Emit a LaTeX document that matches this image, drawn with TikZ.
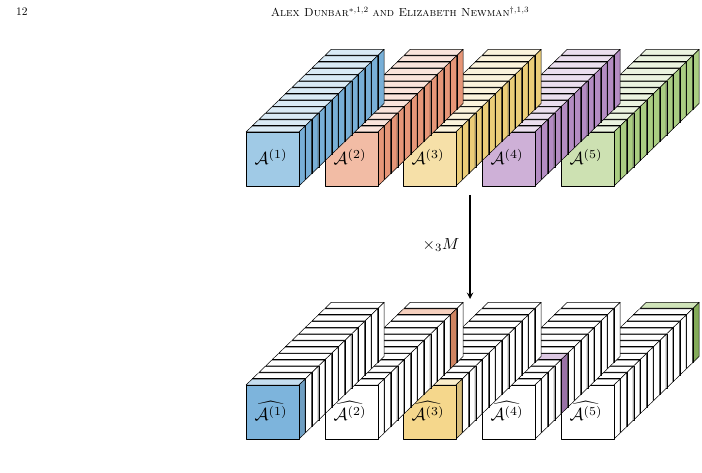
\documentclass[tikz,border=0pt]{standalone}
\usepackage{amsmath}
\begin{document}
\begin{tikzpicture}[x=1pt,y=-1pt,line join=round,lab/.style={scale=1.75,inner sep=0pt}]
\useasboundingbox (0,0) rectangle (702,473);
\definecolor{cA}{RGB}{160,202,230}\definecolor{cB}{RGB}{242,188,165}
\definecolor{cC}{RGB}{246,224,168}\definecolor{cD}{RGB}{206,176,215}
\definecolor{cE}{RGB}{205,225,178}
\definecolor{sA}{RGB}{120,175,215}\definecolor{sB}{RGB}{230,150,120}
\definecolor{sC}{RGB}{235,205,120}\definecolor{sD}{RGB}{180,140,195}
\definecolor{sE}{RGB}{170,205,130}
\definecolor{dA}{RGB}{125,180,220}\definecolor{dC}{RGB}{245,215,140}
\definecolor{dB}{RGB}{235,150,110}\definecolor{dD}{RGB}{175,130,190}
\definecolor{dE}{RGB}{150,195,100}
\newcommand\myslice[5]{%
 \filldraw[fill=#4,line width=0.5pt] (#1,#2) -- ++(6,-5.8) -- ++(53,0) -- ++(-6,5.8) -- cycle;
 \filldraw[fill=#5,line width=0.5pt] (#1+53,#2) -- ++(6,-5.8) -- ++(0,54) -- ++(-6,5.8) -- cycle;
 \filldraw[fill=#3,line width=0.5pt] (#1,#2) rectangle ++(53,54);}
\newcommand\topblock[4]{%
 \foreach \k in {12,...,0}{\myslice{#1+6.6*\k}{#2-6.4*\k}{#3}{#3!40}{#4}}}
\newcommand\botblock[4]{%
 \foreach \k in {12,...,0}{%
  \ifnum\k=#3\relax \myslice{#1+6.6*\k}{#2-6.4*\k}{#4}{#4!45}{#4!88!black}%
  \else \myslice{#1+6.6*\k}{#2-6.4*\k}{white}{white}{white}\fi}}
\node[anchor=west,scale=1.15] (pg) at (12,12) {12};
\node[scale=1.16] (hd) at (400,12) {\textsc{Alex Dunbar}$^{*,1,2}$ \textsc{and Elizabeth Newman}$^{\dagger,1,3}$};
\topblock{561}{132}{cE}{sE}
\topblock{482}{132}{cD}{sD}
\topblock{403}{132}{cC}{sC}
\topblock{325}{132}{cB}{sB}
\topblock{246}{132}{cA}{sA}
\foreach \i/\x in {1/246,2/325,3/403,4/482,5/561}
  \node[lab] (t\i) at (\x+25,157) {$\mathcal{A}^{(\i)}$};
\botblock{561}{385}{12}{dE}
\botblock{482}{385}{4}{dD}
\botblock{403}{385}{0}{dC}
\botblock{325}{385}{11}{dB}
\botblock{246}{385}{0}{dA}
\foreach \i/\x in {1/246,2/325,3/403,4/482,5/561}
  \node[lab] (b\i) at (\x+25,411) {$\widehat{\mathcal{A}^{(\i)}}$};
\coordinate (a1) at (470,195); \coordinate (a2) at (470,299);
\draw[line width=1.8pt,-stealth] (a1) -- (a2);
\node[scale=1.6] (lbl) at (441,245) {$\times_3 M$};
\end{tikzpicture}
\end{document}
